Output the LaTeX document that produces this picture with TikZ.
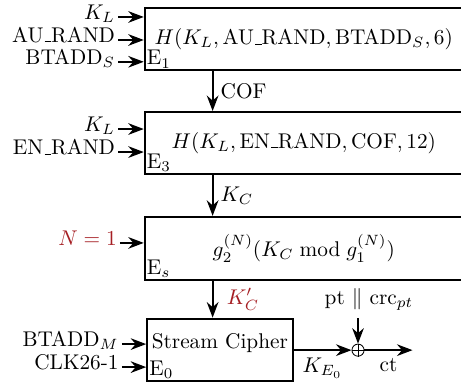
\documentclass[tikz,border=0pt]{standalone}
\usepackage{amsmath}
\usepackage{amssymb}
\usepackage{tikz}
\usetikzlibrary{positioning, arrows.meta, calc}
\usepackage{xcolor}
\definecolor{keyred}{RGB}{165,30,35}
\newcommand{\usc}{\leavevmode\kern.06em\vbox{\hrule width.3em}}

\begin{document}
\begin{tikzpicture}[>=Stealth, line width=0.95pt,
  box/.style={draw, inner sep=0pt},
  inlabel/.style={anchor=east, inner sep=1pt, text height=1ex, text depth=0.5ex},
  corner/.style={anchor=south west, inner sep=1pt}]
  \useasboundingbox (0,0) rectangle (7.61,-6.37);

  % Key derivation boxes
  \node[box, minimum width=5.25cm, minimum height=1.03cm] (e1) at (5.015,-0.645) {$H(K_L, \text{AU\usc RAND}, \text{BTADD}_S, 6)$};
  \node[box, minimum width=5.25cm, minimum height=1.02cm] (e3) at (5.015,-2.36) {$H(K_L, \text{EN\usc RAND}, \text{COF}, 12)$};
  \node[box, minimum width=5.25cm, minimum height=1.04cm] (es) at (5.015,-4.10) {$g_2^{(N)}(K_C \bmod g_1^{(N)})$};
  \node[box, minimum width=2.4cm, minimum height=1.03cm] (e0) at (3.63,-5.775) {};
  \node at ([yshift=0.11cm]e0.center) {Stream Cipher};

  % Corner labels
  \node[corner] at (e1.south west) {E$_1$};
  \node[corner] at (e3.south west) {E$_3$};
  \node[corner] at (es.south west) {E$_s$};
  \node[corner] at (e0.south west) {E$_0$};

  % Inputs on the left
  \node[inlabel] (kl1) at (1.95,-0.28) {$K_L$};
  \node[inlabel] (aurand) at (1.95,-0.66) {AU\usc RAND};
  \node[inlabel] (btadds) at (1.95,-1.02) {BTADD$_S$};
  \node[inlabel] (kl3) at (1.95,-2.13) {$K_L$};
  \node[inlabel] (enrand) at (1.95,-2.51) {EN\usc RAND};
  \node[inlabel, text=keyred] (nval) at (1.98,-4.01) {$N=1$};
  \node[inlabel] (btaddm) at (2.01,-5.68) {BTADD$_M$};
  \node[inlabel] (clk) at (2.01,-6.06) {CLK26-1};

  \foreach \src/\dst in {kl1/e1, aurand/e1, btadds/e1, kl3/e3, enrand/e3, nval/es, btaddm/e0, clk/e0}
    \draw[->] (\src) -- (\src -| \dst.west);

  % Chain between boxes
  \coordinate (col) at (3.51,0);
  \draw[->] (e1.south -| col) -- node[right] {COF} (e3.north -| col);
  \draw[->] (e3.south -| col) -- node[right] {$K_C$} (es.north -| col);
  \draw[->] (es.south -| col) -- node[right, xshift=0.1cm, text=keyred] {$K'_C$} (e0.north -| col);

  % Encryption
  \node[circle, draw, thin, inner sep=0pt, minimum size=0.2cm] (xor) at (5.91,-5.78) {};
  \draw[thin] (xor.north) -- (xor.south) (xor.west) -- (xor.east);
  \node (ptcrc) at (6.09,-4.94) {pt $\parallel$ crc$_{pt}$};
  \coordinate (ctend) at (6.81,-5.78);
  \draw[->] (e0.east |- xor) -- node[below] {$K_{E_0}$} (xor.west);
  \draw[->] (ptcrc.south -| xor) -- (xor.north);
  \draw[->] (xor.east) -- node[below] {ct} (ctend);
\end{tikzpicture}
\end{document}
